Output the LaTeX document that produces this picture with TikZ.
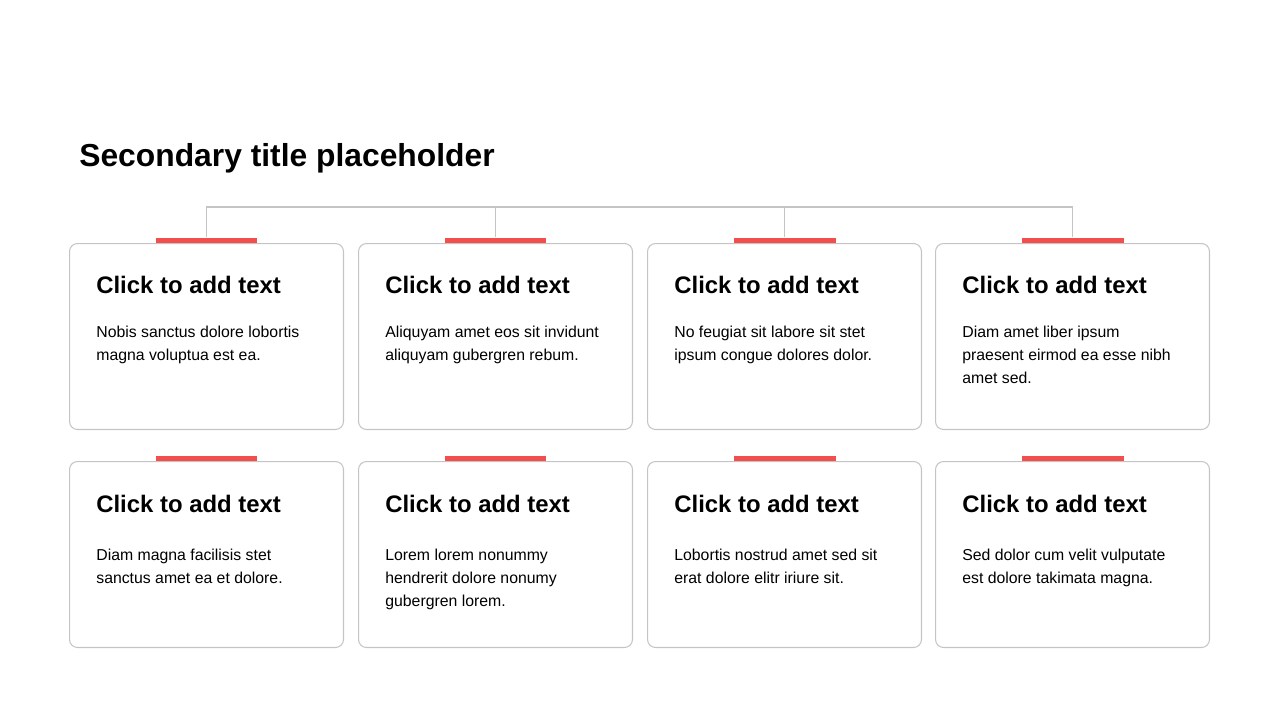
\documentclass[tikz,border=0pt]{standalone}
\usepackage{fontspec}
\setmainfont{Liberation Sans}
\usetikzlibrary{positioning}
\definecolor{accentred}{HTML}{F24E4E}
\definecolor{linegray}{HTML}{C4C4C4}

\begin{document}
\begin{tikzpicture}[x=0.02cm, y=-0.02cm]
  \tikzset{
    card/.style={draw=linegray, line width=0.6pt, rounded corners=0.16cm, minimum width=5.48cm, minimum height=3.72cm, inner sep=0pt, anchor=north west},
    redtab/.style={fill=accentred, minimum width=2.04cm, minimum height=0.1cm, inner sep=0pt, anchor=south},
    cardhead/.style={anchor=base west, inner sep=0pt, font=\fontsize{13.6}{16}\selectfont\bfseries},
    cardbody/.style={anchor=north west, inner sep=0pt, align=left, font=\fontsize{9}{13}\selectfont},
    wire/.style={draw=linegray, line width=0.6pt}
  }
  \useasboundingbox (0,0) rectangle (1280,720);

  % Title
  \node [anchor=base west, inner sep=0pt, font=\fontsize{18.1}{22}\selectfont\bfseries] (title) at (79,166) {Secondary title placeholder};

  % Cards and red tabs
  \foreach \x/\n in {69/1, 358/2, 647/3, 935/4} {
    \node [card] (card1\n) at (\x,243) {};
    \node [card] (card2\n) at (\x,461) {};
    \node [redtab] (tab1\n) at (card1\n.north) {};
    \node [redtab] (tab2\n) at (card2\n.north) {};
  }

  % Connectors
  \coordinate (rail) at (0,207);
  \draw [wire] (tab11.north) |- (rail -| tab14.north) -- (tab14.north);
  \draw [wire] (tab12.north) -- (tab12.north |- rail);
  \draw [wire] (tab13.north) -- (tab13.north |- rail);

  % Top row texts
  \node [cardhead] (head11) at ([xshift=0.54cm, yshift=-1.01cm]card11.north west) {Click to add text};
  \node [cardhead] (head12) at ([xshift=0.54cm, yshift=-1.01cm]card12.north west) {Click to add text};
  \node [cardhead] (head13) at ([xshift=0.54cm, yshift=-1.01cm]card13.north west) {Click to add text};
  \node [cardhead] (head14) at ([xshift=0.54cm, yshift=-1.01cm]card14.north west) {Click to add text};
  \node [cardbody] (body11) at ([xshift=0.54cm, yshift={-1.88cm+9.1pt}]card11.north west) {\strut Nobis sanctus dolore lobortis\\magna voluptua est ea.};
  \node [cardbody] (body12) at ([xshift=0.54cm, yshift={-1.88cm+9.1pt}]card12.north west) {\strut Aliquyam amet eos sit invidunt\\aliquyam gubergren rebum.};
  \node [cardbody] (body13) at ([xshift=0.54cm, yshift={-1.88cm+9.1pt}]card13.north west) {\strut No feugiat sit labore sit stet\\ipsum congue dolores dolor.};
  \node [cardbody] (body14) at ([xshift=0.54cm, yshift={-1.88cm+9.1pt}]card14.north west) {\strut Diam amet liber ipsum\\praesent eirmod ea esse nibh\\amet sed.};

  % Bottom row texts
  \node [cardhead] (head21) at ([xshift=0.54cm, yshift=-1.03cm]card21.north west) {Click to add text};
  \node [cardhead] (head22) at ([xshift=0.54cm, yshift=-1.03cm]card22.north west) {Click to add text};
  \node [cardhead] (head23) at ([xshift=0.54cm, yshift=-1.03cm]card23.north west) {Click to add text};
  \node [cardhead] (head24) at ([xshift=0.54cm, yshift=-1.03cm]card24.north west) {Click to add text};
  \node [cardbody] (body21) at ([xshift=0.54cm, yshift={-1.99cm+9.1pt}]card21.north west) {\strut Diam magna facilisis stet\\sanctus amet ea et dolore.};
  \node [cardbody] (body22) at ([xshift=0.54cm, yshift={-1.99cm+9.1pt}]card22.north west) {\strut Lorem lorem nonummy\\hendrerit dolore nonumy\\gubergren lorem.};
  \node [cardbody] (body23) at ([xshift=0.54cm, yshift={-1.99cm+9.1pt}]card23.north west) {\strut Lobortis nostrud amet sed sit\\erat dolore elitr iriure sit.};
  \node [cardbody] (body24) at ([xshift=0.54cm, yshift={-1.99cm+9.1pt}]card24.north west) {\strut Sed dolor cum velit vulputate\\est dolore takimata magna.};
\end{tikzpicture}
\end{document}
